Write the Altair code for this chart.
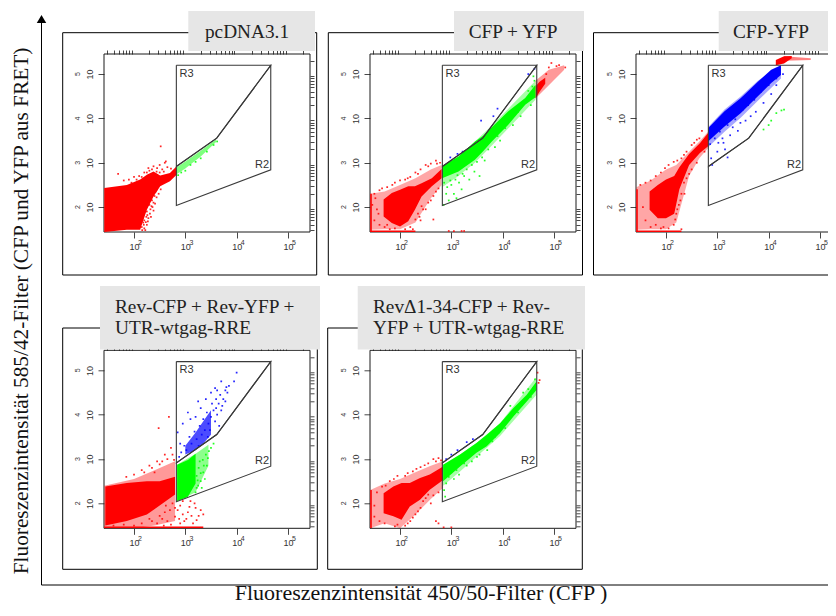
import altair as alt
import pandas as pd

# ---- axis values ----
MAJOR = [100, 1000, 10000, 100000]
MINOR = [30, 40, 50, 60, 70, 80, 90, 200, 300, 400, 500, 600, 700, 800, 900,
         2000, 3000, 4000, 5000, 6000, 7000, 8000, 9000,
         20000, 30000, 40000, 50000, 60000, 70000, 80000, 90000, 200000]
EXPONENTS = ["2", "3", "4", "5"]

# ---- gates, log10 units ----
R3_GATE = [(2.825, 5.198), (4.665, 5.198), (3.612, 3.554), (2.825, 2.914), (2.825, 5.198)]
R2_GATE = [(2.825, 2.914), (3.612, 3.554), (4.665, 5.198), (4.665, 2.84), (2.825, 2.036), (2.825, 2.914)]

# ---- panel titles ----
TITLE_1 = ["pcDNA3.1"]
TITLE_2 = ["CFP + YFP"]
TITLE_3 = ["CFP-YFP"]
TITLE_4 = ["Rev-CFP + Rev-YFP +", "UTR-wtgag-RRE"]
TITLE_5 = ["Rev\u03941-34-CFP + Rev-", "YFP + UTR-wtgag-RRE"]

# ---- population outlines: (log x, log y low, log y high) ----
P1_RED_CORE = [(1.42, 1.44, 2.43), (1.86, 1.49, 2.5), (2.12, 1.49, 2.62), (2.25, 1.94, 2.73), (2.38, 2.24, 2.8), (2.51, 2.47, 2.71), (2.7, 2.58, 2.77), (2.83, 2.73, 2.92)]
P1_GREEN_CORE = [(2.83, 2.74, 2.9), (3.0, 2.87, 3.03), (3.3, 3.14, 3.27), (3.6, 3.47, 3.53)]

P2_RED_FRINGE = [(1.42, 1.49, 2.3), (1.7, 1.5, 2.35), (2.0, 1.5, 2.5), (2.3, 1.65, 2.65), (2.6, 2.2, 2.85), (2.81, 2.5, 2.95)]
P2_RED_CORE = [(1.68, 1.79, 2.17), (1.84, 1.64, 2.32), (2.0, 1.56, 2.39), (2.16, 1.68, 2.47), (2.29, 1.94, 2.47), (2.42, 2.24, 2.54), (2.62, 2.47, 2.65), (2.81, 2.65, 2.86)]
P2_RED_PIN_LEFT = [(1.42, 1.44, 2.3), (1.45, 1.44, 2.3)]
P2_RED_PIN_BOTTOM = [(1.42, 1.44, 1.47), (2.3, 1.44, 1.47)]
P2_GREEN_FRINGE = [(2.82, 2.45, 2.92), (3.14, 2.7, 3.14), (3.46, 3.0, 3.48), (3.8, 3.4, 3.85), (4.64, 4.42, 4.85)]
P2_GREEN_CORE = [(2.82, 2.65, 2.92), (3.14, 2.8, 3.14), (3.46, 3.07, 3.48), (3.62, 3.26, 3.61), (3.79, 3.48, 3.8), (4.11, 3.86, 4.16), (4.44, 4.31, 4.46), (4.64, 4.48, 4.76)]
P2_RED_END_FRINGE = [(4.64, 4.45, 4.85), (4.9, 4.75, 5.1), (5.2, 5.1, 5.2)]
P2_RED_END_CORE = [(4.64, 4.45, 4.72), (4.72, 4.6, 4.83), (4.83, 4.78, 4.92)]

P3_RED_FRINGE = [(1.42, 1.49, 2.45), (1.7, 1.5, 2.6), (2.0, 1.5, 2.85), (2.2, 1.65, 2.95), (2.45, 2.7, 3.25), (2.65, 3.1, 3.48), (2.82, 3.33, 3.7)]
P3_RED_CORE = [(1.68, 1.94, 2.35), (1.84, 1.75, 2.5), (2.0, 1.75, 2.62), (2.16, 1.85, 2.7), (2.26, 2.4, 2.9), (2.45, 2.95, 3.2), (2.66, 3.22, 3.44), (2.82, 3.37, 3.67)]
P3_RED_PIN_LEFT = [(1.42, 1.44, 2.4), (1.45, 1.44, 2.4)]
P3_RED_PIN_BOTTOM = [(1.42, 1.44, 1.47), (2.3, 1.44, 1.47)]
P3_BLUE_FRINGE = [(2.82, 3.35, 3.8), (3.14, 3.7, 4.2), (3.46, 4.02, 4.5), (3.79, 4.4, 4.85), (4.24, 4.9, 5.2)]
P3_BLUE_CORE = [(2.82, 3.48, 3.78), (3.14, 3.82, 4.16), (3.46, 4.12, 4.46), (3.79, 4.5, 4.83), (4.05, 4.8, 5.1), (4.24, 4.98, 5.2)]
P3_RED_TOP = [(4.14, 5.2, 5.32), (4.3, 5.24, 5.4), (4.45, 5.36, 5.41)]
P3_RED_TOP_FRINGE = [(4.3, 5.3, 5.4), (4.82, 5.32, 5.36)]

P4_RED_FRINGE = [(1.42, 1.44, 2.4), (2.0, 1.44, 2.55), (2.4, 1.5, 2.75), (2.8, 1.6, 2.95)]
P4_RED_CORE = [(1.44, 1.5, 2.38), (1.86, 1.6, 2.46), (2.25, 1.75, 2.5), (2.5, 1.95, 2.5), (2.8, 2.2, 2.6)]
P4_RED_PIN_BOTTOM = [(1.42, 1.44, 1.48), (3.35, 1.44, 1.48)]
P4_GREEN_FRINGE = [(2.84, 2.05, 2.87), (3.2, 2.25, 3.12), (3.45, 2.85, 3.32)]
P4_GREEN_CORE = [(2.84, 2.05, 2.87), (3.05, 2.15, 2.98), (3.2, 2.45, 3.12)]
P4_BLUE_CORE = [(3.0, 3.1, 3.3), (3.2, 3.2, 3.6), (3.35, 3.35, 3.85), (3.5, 3.55, 4.1)]

P5_RED_FRINGE = [(1.42, 1.44, 2.3), (1.7, 1.55, 2.45), (2.0, 1.44, 2.55), (2.3, 1.75, 2.7), (2.6, 2.1, 2.85), (2.84, 2.35, 2.95)]
P5_RED_CORE = [(1.68, 1.78, 2.23), (1.87, 1.71, 2.38), (2.03, 1.63, 2.46), (2.19, 1.93, 2.46), (2.39, 2.08, 2.57), (2.58, 2.31, 2.65), (2.84, 2.53, 2.83)]
P5_RED_PIN_LEFT = [(1.42, 1.44, 2.3), (1.45, 1.44, 2.3)]
P5_GREEN_FRINGE = [(2.84, 2.4, 2.87), (3.17, 2.72, 3.1), (3.49, 3.05, 3.36), (3.95, 3.52, 3.81), (4.66, 4.45, 4.85)]
P5_GREEN_CORE = [(2.84, 2.5, 2.87), (3.17, 2.83, 3.1), (3.49, 3.14, 3.36), (3.69, 3.29, 3.55), (3.95, 3.59, 3.81), (4.21, 3.96, 4.15), (4.47, 4.3, 4.45), (4.66, 4.56, 4.75)]

# ---- individual events: (log x, log y) ----
P1_RED_DOTS = [(2.52, 3.37), (1.69, 2.75), (2.6, 3.0), (2.5, 2.95), (2.45, 2.88), (2.38, 2.92), (2.3, 2.82), (2.2, 2.78),
               (2.1, 2.7), (2.0, 2.68), (1.9, 2.62), (1.8, 2.6), (2.55, 2.85), (2.65, 2.9), (2.72, 2.87), (2.42, 2.72),
               (2.25, 1.9), (2.3, 2.05), (2.35, 2.15), (2.2, 1.7), (2.25, 1.6), (2.15, 1.55), (2.28, 1.75), (2.4, 2.25),
               (2.45, 2.4), (2.32, 1.95), (2.38, 2.1), (2.18, 1.65), (2.22, 1.48), (2.26, 1.82), (2.34, 2.02), (2.62, 3.03),
               (2.05, 2.62), (2.15, 2.68), (2.25, 2.78), (2.35, 2.85), (2.44, 2.8), (2.5, 2.78), (2.58, 2.8), (2.28, 2.88), (1.95, 2.55),
               (2.16, 1.48), (2.2, 1.52), (2.24, 1.78), (2.27, 1.68), (2.31, 1.85), (2.33, 1.78), (2.36, 2.0), (2.41, 2.08), (2.44, 2.22),
               (2.48, 2.3), (2.42, 2.35), (2.52, 2.4), (2.38, 1.92), (2.19, 1.6), (2.23, 1.66)]
P1_GREEN_DOTS = [(2.86, 2.72), (2.92, 2.78), (3.0, 2.82), (3.1, 2.95), (3.2, 3.02), (3.3, 3.1), (3.42, 3.25), (3.55, 3.4), (3.62, 3.48)]

P2_RED_DOTS = [(1.5, 2.3), (1.6, 2.38), (1.75, 2.45), (1.85, 2.5), (2.0, 2.6), (2.1, 2.62), (2.2, 2.68), (2.3, 2.78), (2.4, 2.85),
               (2.5, 2.95), (2.6, 2.98), (2.7, 3.05), (2.78, 3.0), (1.5, 1.7), (1.55, 1.95), (1.6, 1.6), (1.7, 1.55), (1.8, 1.5),
               (2.25, 1.5), (2.4, 1.7), (2.5, 1.95), (2.65, 1.72), (2.6, 2.15), (2.7, 2.35), (2.35, 1.85), (2.2, 1.55),
               (2.95, 1.46), (3.05, 1.46), (3.2, 1.46), (3.25, 1.46), (4.95, 5.25), (5.05, 5.18), (4.9, 5.15), (5.1, 5.2), (5.22, 5.15), (4.85, 5.0),
               (1.65, 2.42), (1.9, 2.55), (2.15, 2.65), (2.35, 2.75), (2.55, 2.92), (2.72, 2.98), (2.45, 1.95), (2.55, 2.1), (2.65, 2.25), (2.75, 2.42),
               (2.38, 1.78), (2.3, 1.72), (2.42, 2.02), (1.46, 2.05), (1.52, 2.2), (1.58, 1.85), (1.75, 1.6), (1.9, 1.52), (2.1, 1.5)]
P2_GREEN_DOTS = [(2.85, 2.05), (2.9, 2.3), (2.95, 2.15), (3.0, 2.5), (3.05, 2.3), (3.1, 2.2), (3.15, 2.55), (3.2, 2.4), (3.25, 2.7),
                 (3.35, 2.62), (3.45, 2.8), (3.55, 2.7), (3.65, 3.05), (3.85, 3.35), (3.95, 3.5), (4.2, 3.85), (4.35, 4.05), (4.55, 4.3), (4.62, 4.85), (4.6, 4.95),
                 (2.86, 2.55), (2.92, 2.45), (2.98, 2.6), (3.08, 2.62), (3.12, 2.72), (3.22, 2.75), (3.3, 2.85), (3.4, 2.95), (3.5, 3.02), (3.6, 3.12), (3.72, 3.3), (3.9, 3.6), (4.05, 3.78), (4.3, 4.15), (4.5, 4.62), (4.58, 4.72)]
P2_BLUE_DOTS = [(2.98, 3.12), (3.12, 3.2), (3.22, 3.25), (3.58, 3.95), (3.9, 4.22), (3.82, 4.05), (4.5, 5.0), (4.62, 5.12)]

P3_RED_DOTS = [(1.5, 2.5), (1.6, 2.55), (1.8, 2.7), (1.9, 2.78), (2.05, 2.95), (2.15, 3.02), (2.3, 3.1), (2.4, 3.25), (2.55, 3.45),
               (2.65, 3.55), (2.7, 3.72), (2.5, 2.85), (2.4, 2.65), (2.3, 2.3), (2.35, 2.55), (2.25, 2.05), (2.2, 1.85), (2.15, 1.6),
               (2.3, 1.5), (1.6, 1.7), (1.7, 1.55), (1.9, 1.52), (2.05, 1.52), (1.55, 2.0), (2.45, 2.75), (2.6, 3.0), (2.75, 3.25),
               (1.7, 2.6), (1.98, 2.88), (2.22, 3.05), (2.35, 3.18), (2.5, 3.4), (2.6, 3.52), (2.3, 2.75), (2.36, 2.3), (2.28, 2.15), (2.22, 1.95), (2.18, 1.72), (1.8, 1.6), (1.95, 1.55)]
P3_BLUE_DOTS = [(2.88, 3.1), (2.9, 2.95), (3.0, 3.25), (3.15, 3.3), (3.1, 3.55), (3.25, 3.62), (3.3, 3.8), (3.45, 3.9), (3.55, 3.95),
                (3.65, 4.05), (3.75, 4.15), (3.9, 4.35), (4.05, 4.55), (4.15, 4.75), (3.2, 3.12), (3.02, 3.45),
                (2.86, 3.42), (2.95, 3.55), (3.05, 3.7), (3.2, 3.85), (3.35, 3.98), (3.5, 4.2), (3.6, 4.3), (3.72, 4.42), (3.85, 4.6), (4.0, 4.75), (4.15, 4.9), (4.28, 5.0), (3.12, 3.45), (3.4, 3.72)]
P3_GREEN_DOTS = [(3.9, 3.75), (4.0, 3.85), (4.05, 3.95), (4.15, 4.12), (4.25, 4.18), (4.3, 4.2)]

P4_RED_DOTS = [(2.68, 3.95), (2.48, 3.7), (2.72, 3.25), (2.6, 3.1), (2.45, 2.95), (2.3, 2.85), (2.15, 2.75), (2.0, 2.65), (1.85, 2.6),
               (2.55, 2.95), (2.75, 3.1), (3.0, 2.15), (3.1, 2.05), (3.2, 1.9), (3.35, 1.75), (2.9, 1.95), (3.05, 1.8), (2.8, 1.7),
               (2.65, 1.6), (2.9, 1.55), (3.15, 1.55), (3.3, 1.85), (3.02, 1.65), (2.7, 1.85), (2.95, 1.75), (2.75, 2.0),
               (2.35, 2.8), (2.5, 2.88), (2.65, 3.0), (2.78, 2.98), (2.2, 2.7), (2.4, 2.7), (2.6, 1.8), (2.55, 1.65), (2.45, 1.55), (2.35, 1.6), (2.85, 1.85), (2.95, 2.05), (3.12, 1.72), (3.22, 1.62),
               (3.08, 1.92), (2.88, 1.65), (2.72, 1.52), (2.58, 1.5), (2.98, 1.6), (3.18, 2.0), (3.26, 1.72), (2.8, 1.9), (2.62, 1.95), (2.5, 1.72), (2.3, 1.65), (2.15, 1.55), (2.0, 1.5), (1.8, 1.52), (1.6, 1.5)]
P4_GREEN_DOTS = [(3.3, 2.5), (3.35, 2.7), (3.28, 2.95), (3.4, 3.1), (3.25, 2.4), (3.42, 2.85), (3.5, 3.25), (3.55, 3.35), (3.32, 2.35), (3.2, 2.25),
                 (3.22, 2.62), (3.26, 2.8), (3.3, 2.68), (3.34, 2.98), (3.38, 2.55), (3.44, 3.02), (3.24, 2.52), (3.36, 2.85), (3.22, 2.35), (3.46, 3.18)]
P4_BLUE_DOTS = [(2.85, 3.6), (2.9, 3.35), (2.95, 3.8), (3.05, 4.05), (3.1, 3.9), (3.2, 3.95), (3.25, 4.3), (3.3, 4.15), (3.4, 4.35), (3.5, 4.5),
                (3.58, 4.6), (3.62, 4.55), (3.7, 4.75), (3.78, 4.55), (3.85, 4.65), (3.95, 4.75), (4.0, 4.95), (3.72, 4.2), (3.82, 4.5), (3.6, 4.15),
                (2.88, 3.05), (2.92, 3.15), (2.98, 3.3), (3.02, 3.2), (3.08, 3.5), (3.12, 3.35), (3.18, 3.62), (3.22, 3.45), (3.28, 3.75), (3.32, 3.55),
                (3.35, 3.9), (3.38, 3.65), (3.42, 4.05), (3.45, 3.8), (3.48, 3.65), (3.5, 3.95), (3.52, 4.25), (3.55, 4.1), (3.58, 3.85), (3.6, 4.35),
                (3.62, 4.0), (3.65, 4.25), (3.68, 4.45), (3.7, 4.1), (3.74, 4.35), (3.78, 4.3), (3.8, 4.62), (3.66, 3.75), (3.44, 3.5), (3.26, 3.3)]

P5_RED_DOTS = [(1.55, 2.25), (1.65, 2.38), (1.8, 2.5), (1.95, 2.62), (2.1, 2.62), (2.25, 2.72), (2.4, 2.82), (2.55, 2.9), (2.65, 3.0), (2.75, 3.02),
               (2.5, 2.12), (2.6, 2.0), (2.75, 2.25), (2.4, 1.9), (2.3, 1.75), (2.2, 1.6), (2.1, 1.5), (1.9, 1.48), (1.7, 1.55), (1.5, 1.7),
               (2.7, 1.6), (2.75, 1.55), (2.85, 1.46), (3.0, 1.46), (4.68, 4.95), (4.72, 4.78), (4.7, 4.72),
               (1.72, 2.4), (1.88, 2.55), (2.15, 2.68), (2.32, 2.78), (2.48, 2.86), (2.7, 2.95), (2.8, 2.97), (2.45, 2.05), (2.55, 2.2), (2.65, 2.18), (2.35, 1.82), (2.25, 1.68), (2.15, 1.55), (1.95, 1.52), (1.6, 1.6), (1.5, 1.95)]
P5_GREEN_DOTS = [(2.86, 2.3), (2.9, 2.45), (2.95, 2.6), (3.05, 2.55), (3.15, 2.65), (3.3, 2.85), (3.4, 2.95), (3.55, 3.1), (3.7, 3.2), (3.85, 3.5),
                 (4.05, 3.7), (4.3, 4.05), (4.55, 4.4), (4.63, 4.8), (4.6, 4.6), (2.88, 2.15), (3.0, 2.7), (3.1, 2.75), (3.25, 2.9), (3.5, 3.05), (3.8, 3.4), (4.15, 4.2), (4.4, 4.5), (4.5, 4.58)]
P5_BLUE_DOTS = [(2.9, 3.0), (3.0, 3.1), (3.12, 3.2), (3.3, 3.38), (3.42, 3.45)]

RED, GREEN, BLUE = "#ff0000", "#00ff00", "#0000ff"
XS = alt.Scale(type="log", domain=[26, 269000])
YS = alt.Scale(type="log", domain=[27.4, 284000])
ONE = alt.Data(values=[{"k": 1}])


def tick_axis(values, size, labels, vertical):
    return alt.Axis(values=values, title=None, grid=False, domain=False, labels=labels,
                    labelExpr="'10'", labelOverlap=False, labelFlush=False,
                    labelFont="Liberation Sans", labelFontSize=9, labelColor="#333333",
                    tickColor="#333333", tickWidth=0.9, tickSize=size, labelPadding=4,
                    labelAngle=270 if vertical else 0)


def band(rows, color, opacity=1.0):
    df = pd.DataFrame({"x": [10 ** r[0] for r in rows], "lo": [10 ** r[1] for r in rows], "hi": [10 ** r[2] for r in rows]})
    return alt.Chart(df).mark_area(color=color, opacity=opacity, clip=True, orient="vertical").encode(
        x=alt.X("x:Q", scale=XS, axis=None), y=alt.Y("lo:Q", scale=YS, axis=None), y2="hi:Q")


def dots(rows, color):
    df = pd.DataFrame({"x": [10 ** r[0] for r in rows], "y": [10 ** r[1] for r in rows]})
    return alt.Chart(df).mark_square(color=color, size=3, opacity=0.85, clip=True).encode(
        x=alt.X("x:Q", scale=XS, axis=None), y=alt.Y("y:Q", scale=YS, axis=None))


def gate(rows):
    df = pd.DataFrame({"x": [10 ** r[0] for r in rows], "y": [10 ** r[1] for r in rows], "i": range(len(rows))})
    return alt.Chart(df).mark_line(color="#3a3a3a", strokeWidth=1.1, clip=True).encode(
        x=alt.X("x:Q", scale=XS, axis=None), y=alt.Y("y:Q", scale=YS, axis=None), order="i:Q")


def box(x0, x1, y0, y1, **kw):
    return alt.Chart(ONE).mark_rect(**kw).encode(
        x=alt.value(x0), x2=alt.value(x1), y=alt.value(y0), y2=alt.value(y1))


def hline(x0, x1, y, color="#000000"):
    return alt.Chart(ONE).mark_rule(color=color, strokeWidth=1).encode(x=alt.value(x0), x2=alt.value(x1), y=alt.value(y))


def vline(x, y0, y1, color="#000000"):
    return alt.Chart(ONE).mark_rule(color=color, strokeWidth=1).encode(x=alt.value(x), y=alt.value(y0), y2=alt.value(y1))


def note(text, x, y, **kw):
    return alt.Chart(alt.Data(values=[{"t": text}])).mark_text(**kw).encode(
        text="t:N", x=alt.value(x), y=alt.value(y))


def panel(view, frame, gray, title_lines, title_x, title_ys, title_align, layers, width=206, height=178, extra=()):
    vx, vy = view
    major_base = alt.Chart(pd.DataFrame({"x": MAJOR, "y": MAJOR})).mark_point(opacity=0).encode(
        x=alt.X("x:Q", scale=XS, axis=tick_axis(MAJOR, 6, True, False)),
        y=alt.Y("y:Q", scale=YS, axis=tick_axis(MAJOR, 6, True, True)))
    minor_base = alt.Chart(pd.DataFrame({"x": MINOR, "y": MINOR})).mark_point(opacity=0, clip=True).encode(
        x=alt.X("x:Q", scale=XS, axis=tick_axis(MINOR, 4, False, False)),
        y=alt.Y("y:Q", scale=YS, axis=tick_axis(MINOR, 4, False, True)))
    xexp = alt.Chart(pd.DataFrame({"x": MAJOR, "e": EXPONENTS})).mark_text(
        font="Liberation Sans", fontSize=7, color="#333333", dx=6).encode(
        x=alt.X("x:Q", scale=XS, axis=None), y=alt.value(height + 10.5), text="e:N")
    yexp = alt.Chart(pd.DataFrame({"y": MAJOR, "e": EXPONENTS})).mark_text(
        font="Liberation Sans", fontSize=7, color="#333333", angle=270, dy=-7).encode(
        y=alt.Y("y:Q", scale=YS, axis=None), x=alt.value(-19), text="e:N")
    fx0, fx1, fy0, fy1 = frame[0] - vx, frame[1] - vx, frame[2] - vy, frame[3] - vy
    borders = [hline(fx0, fx1, fy0), hline(fx0, fx1, fy1), vline(fx0, fy0, fy1), vline(fx1, fy0, fy1),
               hline(0, width, 0, "#1a1a1a"), hline(0, width, height, "#1a1a1a"),
               vline(0, 0, height, "#1a1a1a"), vline(width, 0, height, "#1a1a1a")]
    parts = list(extra) + borders + [major_base, minor_base] + layers + [
        gate(R3_GATE), gate(R2_GATE),
        alt.Chart(pd.DataFrame({"x": [770, 22900], "y": [100000, 897], "t": ["R3", "R2"]})).mark_text(
            font="Liberation Sans", fontSize=11, color="#333333", align="left").encode(
            x=alt.X("x:Q", scale=XS, axis=None), y=alt.Y("y:Q", scale=YS, axis=None), text="t:N"),
        xexp, yexp,
        box(gray[0] - vx, gray[1] - vx, gray[2] - vy, gray[3] - vy, fill="#e6e6e6"),
    ]
    for line, ty in zip(title_lines, title_ys):
        parts.append(note(line, title_x - vx, ty - vy, font="Liberation Serif", fontSize=19.3,
                          color="#222222", align=title_align, baseline="middle"))
    return alt.layer(*parts).resolve_axis(x="independent", y="independent").properties(width=width, height=height)


outer = [
    note("Fluoreszenzintensit\u00e4t 585/42-Filter (CFP und YFP aus FRET)", 22 - 104, 311 - 54, angle=270,
         font="Liberation Serif", fontSize=21.3, color="#111111", align="center", baseline="middle"),
    note("Fluoreszenzintensit\u00e4t 450/50-Filter (CFP )", 421 - 104, 599.5 - 54,
         font="Liberation Serif", fontSize=22, color="#111111", align="center", baseline="alphabetic"),
    vline(41.5 - 104, 20 - 54, 585 - 54),
    hline(41.5 - 104, 732, 585 - 54),
    alt.Chart(ONE).mark_point(shape="triangle-up", filled=True, size=90, color="#000000", opacity=1).encode(
        x=alt.value(41.5 - 104), y=alt.value(19 - 54)),
]

p1 = panel((104, 54), (62.7, 316.7, 32.7, 275), (188.3, 315, 11, 51), TITLE_1, 247, [31.5], "center", [
    band(P1_RED_CORE, RED), dots(P1_RED_DOTS, RED),
    band(P1_GREEN_CORE, GREEN, 0.5), dots(P1_GREEN_DOTS, GREEN)], extra=outer)

p2 = panel((370, 54), (328.3, 582.5, 32.7, 275), (454, 584, 11, 51), TITLE_2, 513, [31.5], "center", [
    band(P2_RED_FRINGE, RED, 0.35), band(P2_RED_CORE, RED), band(P2_RED_PIN_LEFT, RED), band(P2_RED_PIN_BOTTOM, RED), dots(P2_RED_DOTS, RED),
    band(P2_RED_END_FRINGE, RED, 0.4), band(P2_RED_END_CORE, RED),
    band(P2_GREEN_FRINGE, GREEN, 0.35), band(P2_GREEN_CORE, GREEN), dots(P2_GREEN_DOTS, GREEN), dots(P2_BLUE_DOTS, BLUE)])

p3 = panel((636, 54), (593.5, 850, 32.7, 275), (718.7, 846, 11, 51), TITLE_3, 771, [31.5], "center", [
    band(P3_RED_FRINGE, RED, 0.35), band(P3_RED_CORE, RED), band(P3_RED_PIN_LEFT, RED), band(P3_RED_PIN_BOTTOM, RED), dots(P3_RED_DOTS, RED),
    band(P3_RED_TOP_FRINGE, RED, 0.5), band(P3_RED_TOP, RED),
    band(P3_BLUE_FRINGE, BLUE, 0.35), band(P3_BLUE_CORE, BLUE), dots(P3_BLUE_DOTS, BLUE), dots(P3_GREEN_DOTS, GREEN)])

p4 = panel((104, 350.3), (62.7, 317.3, 328, 569.3), (100, 320, 286, 349.5), TITLE_4, 115, [306.5, 328], "left", [
    band(P4_RED_FRINGE, RED, 0.4), band(P4_RED_CORE, RED), band(P4_RED_PIN_BOTTOM, RED), dots(P4_RED_DOTS, RED),
    band(P4_GREEN_FRINGE, GREEN, 0.45), band(P4_GREEN_CORE, GREEN), dots(P4_GREEN_DOTS, GREEN),
    band(P4_BLUE_CORE, BLUE, 0.7), dots(P4_BLUE_DOTS, BLUE)])

p5 = panel((370, 350.3), (327.7, 582.3, 328, 569.3), (357.7, 585, 286, 349.5), TITLE_5, 373, [306.5, 328], "left", [
    band(P5_RED_FRINGE, RED, 0.35), band(P5_RED_CORE, RED), band(P5_RED_PIN_LEFT, RED), dots(P5_RED_DOTS, RED),
    band(P5_GREEN_FRINGE, GREEN, 0.35), band(P5_GREEN_CORE, GREEN), dots(P5_GREEN_DOTS, GREEN), dots(P5_BLUE_DOTS, BLUE)])

chart = alt.concat(p1, p2, p3, p4, p5, columns=3, spacing=alt.RowColnumber(row=118.3, column=60), bounds="flush").properties(
    autosize=alt.AutoSizeParams(type="none"),
    padding={"left": 96, "top": 46, "right": 724, "bottom": 550}, background="#ffffff"
).configure_view(stroke=None)

chart.save("out.html", embed_options={"renderer": "svg", "actions": False})
